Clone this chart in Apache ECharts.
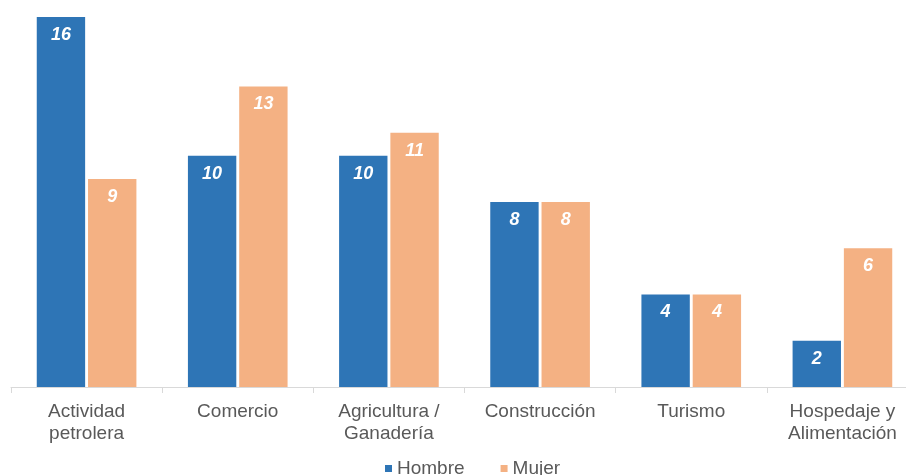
<!DOCTYPE html>
<html>
<head>
<meta charset="utf-8">
<script src="https://cdn.jsdelivr.net/npm/echarts@6/dist/echarts.min.js"></script>
<style>html,body{margin:0;padding:0;background:#fff;overflow:hidden}#c{width:918px;height:475px}</style>
</head>
<body>
<div id="c"></div>
<script>
const categories = ['Actividad\npetrolera', 'Comercio', 'Agricultura /\nGanadería', 'Construcción', 'Turismo', 'Hospedaje y\nAlimentación'];
const hombre = [16, 10, 10, 8, 4, 2];
const mujer = [9, 13, 11, 8, 4, 6];
const seriesNames = ['Hombre', 'Mujer'];

const chart = echarts.init(document.getElementById('c'));
const labelStyle = {
  show: true, position: 'insideTop', distance: 9,
  color: '#fff', fontWeight: 'bold', fontStyle: 'italic',
  fontSize: 18, fontFamily: 'Liberation Sans, Arial, sans-serif'
};
chart.setOption({
  animation: false,
  textStyle: { fontFamily: 'Liberation Sans, Arial, sans-serif' },
  grid: { left: 11, right: 0, top: 17, bottom: 88, containLabel: false },
  legend: {
    bottom: -8, left: 380,
    icon: 'rect', itemWidth: 7, itemHeight: 7, itemGap: 36,
    textStyle: { color: '#595959', fontSize: 19 },
    data: seriesNames
  },
  xAxis: {
    type: 'category', data: categories,
    axisLine: { lineStyle: { color: '#d9d9d9', width: 1 } },
    axisTick: { show: true, length: 6, lineStyle: { color: '#d9d9d9' } },
    axisLabel: { color: '#595959', fontSize: 19, lineHeight: 22, margin: 14, interval: 0 }
  },
  yAxis: {
    type: 'value', min: 0, max: 16, show: false,
    splitLine: { show: false }
  },
  series: [
    { name: seriesNames[0], type: 'bar', data: hombre, barWidth: '32%', barGap: '6%',
      itemStyle: { color: '#2E75B6' }, label: labelStyle },
    { name: seriesNames[1], type: 'bar', data: mujer, barWidth: '32%',
      itemStyle: { color: '#F4B183' }, label: labelStyle }
  ]
});
</script>
</body>
</html>
